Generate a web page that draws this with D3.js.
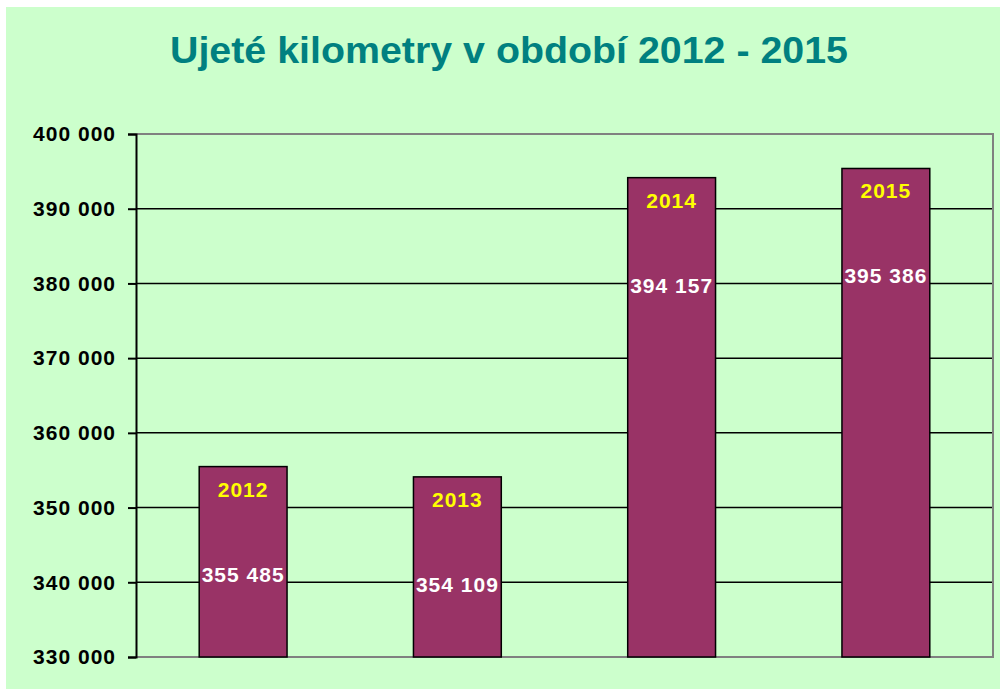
<!DOCTYPE html>
<html>
<head>
<meta charset="utf-8">
<script src="https://cdn.jsdelivr.net/npm/d3@7"></script>
<style>
  body { margin: 0; background: #fff; }
  svg { display: block; font-family: Arial, "Liberation Sans", sans-serif; }
</style>
</head>
<body>
<svg id="chart" width="1000" height="689"></svg>
<script>
// data
const years = ["2012", "2013", "2014", "2015"];
const kilometers = [355485, 354109, 394157, 395386];
const yTicks = [330000, 340000, 350000, 360000, 370000, 380000, 390000, 400000];

const svg = d3.select("#chart");
const margin = { top: 134, right: 7, bottom: 32, left: 136 };
const width = +svg.attr("width") - margin.left - margin.right;
const height = +svg.attr("height") - margin.top - margin.bottom;

// chart area background
svg.append("rect")
    .attr("x", 6).attr("y", 7)
    .attr("width", 994).attr("height", 682)
    .attr("fill", "#ccffcc");

svg.append("text")
    .attr("x", 509).attr("y", 63)
    .attr("text-anchor", "middle")
    .attr("fill", "#008080")
    .attr("font-size", 36)
    .attr("font-weight", "bold")
    .attr("textLength", 678)
    .attr("lengthAdjust", "spacingAndGlyphs")
    .text("Ujeté kilometry v období 2012 - 2015");

const g = svg.append("g").attr("transform", `translate(${margin.left},${margin.top})`);

const x = d3.scaleBand().domain(years).range([0, width]).paddingInner(0.59).paddingOuter(0.295);
const y = d3.scaleLinear().domain([330000, 400000]).range([height, 0]);

const fmt = v => d3.format(",")(v).replace(/,/g, " ");

// gridlines
g.selectAll("line.grid")
    .data(yTicks.filter(t => t > 330000 && t < 400000))
    .enter().append("line")
    .attr("class", "grid")
    .attr("x1", 0).attr("x2", width)
    .attr("y1", d => y(d)).attr("y2", d => y(d))
    .attr("stroke", "#000")
    .attr("stroke-width", 1.5);

// plot frame (gray) top, right, bottom
g.append("path")
    .attr("d", `M0,${y(400000)}H${width}V${y(330000)}H0`)
    .attr("fill", "none")
    .attr("stroke", "#808080")
    .attr("stroke-width", 2);

// bars
g.selectAll("rect.bar")
    .data(years)
    .enter().append("rect")
    .attr("class", "bar")
    .attr("x", d => x(d))
    .attr("y", (d, i) => y(kilometers[i]))
    .attr("width", x.bandwidth())
    .attr("height", (d, i) => y(330000) - y(kilometers[i]))
    .attr("fill", "#993366")
    .attr("stroke", "#000")
    .attr("stroke-width", 1.5);

// y axis
const yAxis = g.append("g")
    .call(d3.axisLeft(y).tickValues(yTicks).tickSize(8).tickPadding(12).tickFormat(fmt));
yAxis.select(".domain").attr("stroke", "#000").attr("stroke-width", 2);
yAxis.selectAll(".tick line").attr("stroke", "#000").attr("stroke-width", 2);
yAxis.selectAll(".tick text")
    .attr("fill", "#000")
    .attr("font-size", 21)
    .attr("font-weight", "bold")
    .attr("letter-spacing", 1)
    .attr("font-family", "Arial, 'Liberation Sans', sans-serif");

// labels inside bars
g.selectAll("text.year")
    .data(years)
    .enter().append("text")
    .attr("class", "year")
    .attr("x", d => x(d) + x.bandwidth() / 2)
    .attr("y", (d, i) => y(kilometers[i]) + 30)
    .attr("text-anchor", "middle")
    .attr("fill", "#ffff00")
    .attr("font-size", 21)
    .attr("font-weight", "bold")
    .attr("letter-spacing", 1)
    .text(d => d);

g.selectAll("text.value")
    .data(years)
    .enter().append("text")
    .attr("class", "value")
    .attr("x", d => x(d) + x.bandwidth() / 2)
    .attr("y", (d, i) => y(kilometers[i]) + 115)
    .attr("text-anchor", "middle")
    .attr("fill", "#fff")
    .attr("font-size", 21)
    .attr("font-weight", "bold")
    .attr("letter-spacing", 1)
    .text((d, i) => fmt(kilometers[i]));
</script>
</body>
</html>
